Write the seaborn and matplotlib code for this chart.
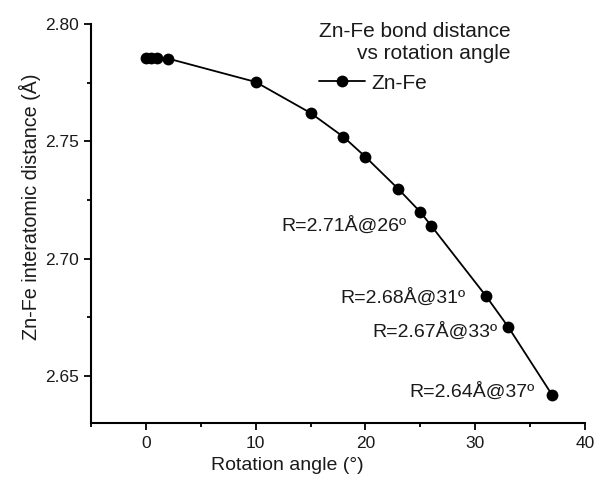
import matplotlib
matplotlib.use("Agg")
import matplotlib.pyplot as plt
from matplotlib.ticker import MultipleLocator
import seaborn as sns
import pandas as pd

# Zn-Fe bond length as a function of the rotation angle
angle_deg = [0, 0.5, 1, 2, 10, 15, 18, 20, 23, 25, 26, 31, 33, 37]
distance_A = [2.7855, 2.7855, 2.7855, 2.7853, 2.7753, 2.7621, 2.7519,
              2.7434, 2.7297, 2.7199, 2.714, 2.684, 2.671, 2.642]

# angles whose distance is written next to the point
labelled_angles = [26, 31, 33, 37]
label_offsets_px = [(-25, 0), (-21, -1), (-11, -5), (-17, 3)]

series_name = "Zn-Fe"
legend_title = "Zn-Fe bond distance\nvs rotation angle"
x_label = "Rotation angle (°)"
y_label = "Zn-Fe interatomic distance (Å)"
x_ticks = [0, 10, 20, 30, 40]
y_ticks = [2.65, 2.70, 2.75, 2.80]

df = pd.DataFrame({"angle": angle_deg, "distance": distance_A})

sns.set_theme(style="ticks")
plt.rcParams["font.family"] = ["Liberation Sans", "DejaVu Sans"]

fig = plt.figure(figsize=(5.96, 4.79), dpi=100)
ax = fig.add_axes([0.1527, 0.1169, 0.8288, 0.8330])

sns.lineplot(data=df, x="angle", y="distance", ax=ax, color="black",
             linewidth=1.3, marker="o", markersize=8.5, markeredgewidth=0,
             markeredgecolor="black", markerfacecolor="black",
             label=series_name, sort=False)

for ang, (dx, dy) in zip(labelled_angles, label_offsets_px):
    r = distance_A[angle_deg.index(ang)]
    ax.annotate(f"R={r:.2f}Å@{ang}º", xy=(ang, r), xytext=(dx, dy),
                textcoords="offset pixels", ha="right", va="center",
                fontsize=14, color="#1a1a1a")

ax.set_xlim(-5, 40)
ax.set_ylim(2.63, 2.80)
ax.set_xticks(x_ticks)
ax.set_yticks(y_ticks)
ax.set_yticklabels([f"{v:.2f}" for v in y_ticks])
ax.xaxis.set_minor_locator(MultipleLocator(5))
ax.yaxis.set_minor_locator(MultipleLocator(0.025))
ax.tick_params(which="major", direction="out", length=5, width=1.3,
               labelsize=12.5, colors="black", labelcolor="#1a1a1a", pad=4)
ax.tick_params(which="minor", direction="out", length=3, width=1.3,
               colors="black")
ax.set_xlabel(x_label, fontsize=14, color="#1a1a1a")
ax.set_ylabel(y_label, fontsize=14.2, color="#1a1a1a")
ax.xaxis.set_label_coords(0.397, -0.085)
ax.yaxis.set_label_coords(-0.101, 0.541)

sns.despine(ax=ax)
for side in ("left", "bottom"):
    ax.spines[side].set_linewidth(1.5)
    ax.spines[side].set_color("black")

leg = ax.legend(title=legend_title, loc="upper left",
                bbox_to_anchor=(0.445, 1.025), frameon=False,
                fontsize=15, title_fontsize=15, handlelength=2.2,
                handletextpad=0.3, borderaxespad=0, alignment="left")
leg.get_title().set_multialignment("right")
leg.get_title().set_color("#1a1a1a")
for t in leg.get_texts():
    t.set_color("#1a1a1a")

fig.savefig("out.png", dpi=100, facecolor="white")
